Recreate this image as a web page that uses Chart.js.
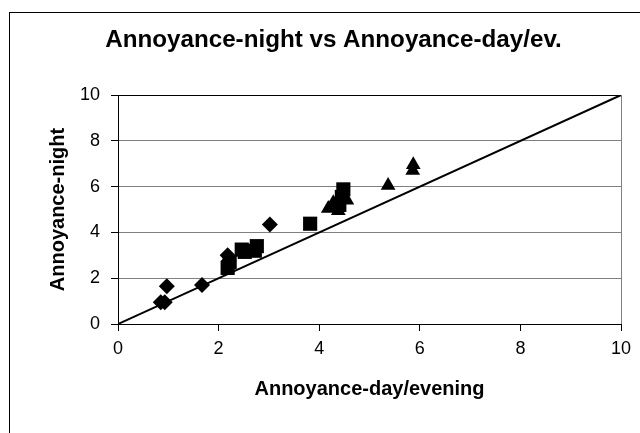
<!DOCTYPE html>
<html>
<head>
<meta charset="utf-8">
<script src="https://cdn.jsdelivr.net/npm/chart.js@4"></script>
<style>
body{margin:0;overflow:hidden;background:#fff;}
#wrap{position:relative;width:640px;height:433px;}
#frame{position:absolute;left:9px;top:12px;width:700px;height:500px;border:1px solid #000;pointer-events:none;}
</style>
</head>
<body>
<div id="wrap">
<canvas id="chart"></canvas>
<div id="frame"></div>
</div>
<script>
// diamonds
let dayD=[0.85,0.93,0.97,1.67,2.18,2.2,3.02]
let nightD=[0.95,0.95,1.65,1.7,3.0,2.75,4.35]
// squares
let dayS=[2.18,2.22,2.46,2.52,2.72,2.76,3.82,4.4,4.45,4.48]
let nightS=[2.45,2.7,3.25,3.15,3.2,3.4,4.38,5.2,5.55,5.88]
// triangles
let dayT=[4.18,4.28,4.38,4.55,5.37,5.86,5.87]
let nightT=[5.05,5.3,4.95,5.4,6.05,6.7,6.95]
// reference line y = x
let lineX=[0,10]
let lineY=[0,10]

let font="'Liberation Sans', Arial, sans-serif"

function pts(xs,ys){
let out=[]
for(let i=0;i<xs.length;i++) out.push({x:xs[i],y:ys[i]})
return out
}

function marker(xs,ys,style,r){
return {
type:'scatter',
data:pts(xs,ys),
pointStyle:style,
pointRadius:r,
pointHoverRadius:r,
backgroundColor:'#000',
borderColor:'#000',
borderWidth:0
}
}

let ctx=document.getElementById("chart").getContext("2d")

let chart=new Chart(ctx,{
type:'scatter',
data:{
datasets:[
{
type:'line',
data:pts(lineX,lineY),
borderColor:'#000',
borderWidth:2,
pointRadius:0,
fill:false
},
marker(dayD,nightD,'rectRot',8),
marker(dayS,nightS,'rect',10),
marker(dayT,nightT,'triangle',8.5)
]
},
options:{
responsive:true,
maintainAspectRatio:false,
animation:false,
layout:{padding:{left:46,right:19,top:0,bottom:0}},
plugins:{
legend:{display:false},
tooltip:{enabled:false},
title:{
display:true,
text:'Annoyance-night vs Annoyance-day/ev.',
color:'#000',
font:{family:font,size:24.2,weight:'bold'},
padding:{top:26,bottom:40}
}
},
scales:{
x:{
type:'linear',
min:0,max:10,
afterFit:function(s){s.height=109},
ticks:{stepSize:2,color:'#000',font:{family:font,size:18},padding:7,maxRotation:0},
grid:{
color:function(c){return c.tick && c.tick.value===10 ? '#808080' : 'rgba(0,0,0,0)'},
tickColor:'#000',
tickLength:7,
drawOnChartArea:true
},
border:{color:'#000',width:1},
title:{display:true,text:'Annoyance-day/evening',color:'#000',font:{family:font,size:20,weight:'bold'},padding:{top:0,bottom:32}}
},
y:{
type:'linear',
min:0,max:10,
afterFit:function(s){s.width=72},
ticks:{stepSize:2,color:'#000',font:{family:font,size:18},padding:11},
grid:{
color:function(c){return c.tick && c.tick.value===10 ? '#000' : '#808080'},
tickColor:'#000',
tickLength:7
},
border:{color:'#000',width:1},
title:{display:true,text:'Annoyance-night',color:'#000',font:{family:font,size:20,weight:'bold'},padding:{top:0,bottom:0}}
}
}
}
})
</script>
</body>
</html>
